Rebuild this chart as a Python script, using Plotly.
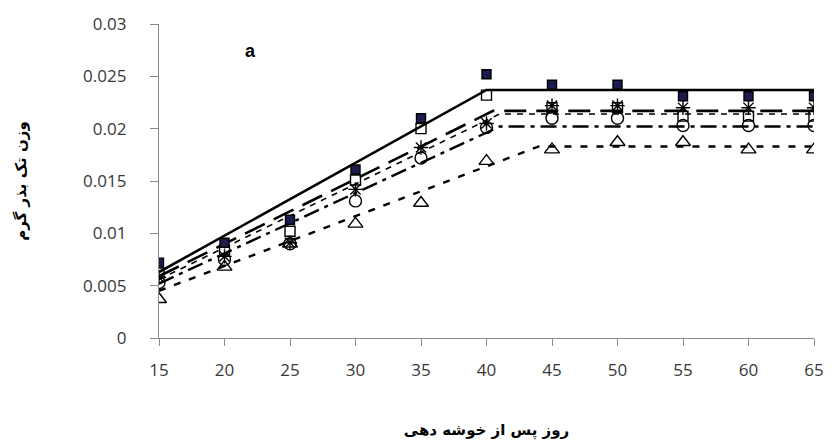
import plotly.graph_objects as go

# Days after heading
days = [15, 20, 25, 30, 35, 40, 45, 50, 55, 60, 65]

# Single-seed weight (g) per treatment
seed_filled_sq = [0.0072, 0.0091, 0.0113, 0.0161, 0.0210, 0.0252, 0.0242, 0.0242, 0.0231, 0.0231, 0.0231]
seed_open_sq = [0.0062, 0.0084, 0.0102, 0.0151, 0.0200, 0.0232, 0.0220, 0.0220, 0.0212, 0.0212, 0.0212]
seed_asterisk = [0.0058, 0.0078, 0.0091, 0.0142, 0.0182, 0.0205, 0.0222, 0.0222, 0.0220, 0.0220, 0.0220]
seed_circle = [0.0053, 0.0075, 0.0090, 0.0131, 0.0172, 0.0201, 0.0210, 0.0210, 0.0203, 0.0203, 0.0203]
seed_triangle = [0.0037, 0.0068, 0.0090, 0.0109, 0.0129, 0.0169, 0.0180, 0.0187, 0.0187, 0.0180, 0.0180]

# Segmented (linear-plateau) fits: start, break point, end
fit_filled_sq_x = [15, 40, 65]
fit_filled_sq_y = [0.0063, 0.0237, 0.0237]
fit_open_sq_x = [15, 40.5, 65]
fit_open_sq_y = [0.0059, 0.0217, 0.0217]
fit_asterisk_x = [15, 41, 65]
fit_asterisk_y = [0.0056, 0.0214, 0.0214]
fit_circle_x = [15, 41, 65]
fit_circle_y = [0.0052, 0.0202, 0.0202]
fit_triangle_x = [15, 44, 65]
fit_triangle_y = [0.0045, 0.0183, 0.0183]

y_tick_vals = [0, 0.005, 0.01, 0.015, 0.02, 0.025, 0.03]
y_tick_text = ["0", "0.005", "0.01", "0.015", "0.02", "0.025", "0.03"]
x_tick_vals = [15, 20, 25, 30, 35, 40, 45, 50, 55, 60, 65]

fig = go.Figure()

fits = [
    (fit_filled_sq_x, fit_filled_sq_y, "solid", 2.6),
    (fit_open_sq_x, fit_open_sq_y, "22px,10px", 2.6),
    (fit_asterisk_x, fit_asterisk_y, "6px,6px", 1.6),
    (fit_circle_x, fit_circle_y, "16px,6px,4px,6px", 2.4),
    (fit_triangle_x, fit_triangle_y, "7px,9px", 2.4),
]
for fx, fy, dash, w in fits:
    fig.add_trace(go.Scatter(x=fx, y=fy, mode="lines",
                             line=dict(color="black", width=w, dash=dash),
                             showlegend=False, hoverinfo="skip"))

markers = [
    (seed_triangle, "triangle-up-open", "black", 13),
    (seed_circle, "circle-open", "black", 12),
    (seed_asterisk, "asterisk-open", "black", 12),
    (seed_open_sq, "square-open", "black", 10),
    (seed_filled_sq, "square", "#1c1c4e", 9),
]
for vals, sym, col, size in markers:
    fig.add_trace(go.Scatter(x=days, y=vals, mode="markers",
                             marker=dict(symbol=sym, size=size, color=col,
                                         line=dict(color="black", width=1.4)),
                             showlegend=False))

fig.add_annotation(x=22, y=0.0274, text="<b>a</b>", showarrow=False,
                   font=dict(family="Liberation Sans", size=18, color="black"))

fig.update_layout(
    width=836, height=447,
    margin=dict(l=159, r=14, t=15, b=107),
    paper_bgcolor="white", plot_bgcolor="white",
    font=dict(family="Open Sans", color="#404040"),
)
fig.update_xaxes(
    range=[15, 65], tickvals=x_tick_vals, showgrid=False, zeroline=False,
    showline=True, linecolor="#8a8a8a", linewidth=1.3,
    ticks="outside", ticklen=7, tickcolor="#8a8a8a", tickwidth=1.3,
    tickfont=dict(size=17, color="#383838"), ticklabelstandoff=9,
    title=dict(text="<b>روز پس از خوشه دهی</b>", standoff=44,
               font=dict(family="DejaVu Sans", size=15, color="black")),
)
fig.update_yaxes(
    range=[0, 0.03], tickvals=y_tick_vals, ticktext=y_tick_text,
    showgrid=False, zeroline=False,
    showline=True, linecolor="#8a8a8a", linewidth=1.3,
    ticks="outside", ticklen=8, tickcolor="#8a8a8a", tickwidth=1.3,
    tickfont=dict(size=17, color="#383838"), ticklabelstandoff=20,
    title=dict(text="<b>وزن تک بذر گرم</b>", standoff=52,
               font=dict(family="DejaVu Sans", size=15, color="black")),
)

fig.write_html("out.html")
